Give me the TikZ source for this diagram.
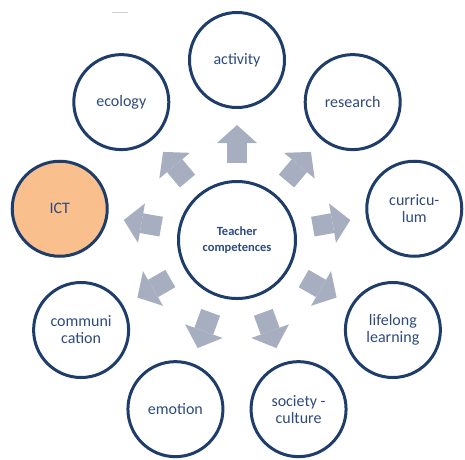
\documentclass[tikz,border=0pt]{standalone}
\usepackage{fontspec}
\setmainfont{Carlito}
\usetikzlibrary{arrows.meta}

\definecolor{ringblue}{HTML}{1F3D6B}
\definecolor{textblue}{HTML}{2D4A7E}
\definecolor{spokegray}{HTML}{A7AEBF}
\definecolor{ictorange}{HTML}{F9C08E}

\tikzset{
    topic/.style={circle, draw=ringblue, line width=3pt, minimum size=95pt, inner sep=0pt,
        align=center, text=textblue, font=\fontsize{16}{17}\selectfont},
    core/.style={topic, minimum size=117pt, font=\bfseries\fontsize{12.5}{16.5}\selectfont},
    spoke/.style={draw=spokegray, line width=20pt,
        -{Triangle[length=18pt,width=40pt,line width=0pt]}, shorten <=17pt, shorten >=16pt}
}

\begin{document}
\begin{tikzpicture}[x=1pt,y=1pt]
        \useasboundingbox (-237,-219) rectangle (228,240);
        \draw[gray!35, line width=1pt] (-125,228) -- (-109,228);
        \node[core] (tc) at (0,0) {Teacher\\competences};
        \node[topic] (activity) at (90:180) {activity};
        \node[topic] (research) at (50:180) {research};
        \node[topic] (curriculum) at (10:180) {curricu-\\lum};
        \node[topic] (lifelong) at (-30:180) {lifelong\\learning};
        \node[topic] (society) at (-70:180) {society -\\culture};
        \node[topic] (emotion) at (-110:180) {emotion};
        \node[topic] (communication) at (-150:180) {communi\\cation};
        \node[topic, fill=ictorange] (ict) at (170:180) {ICT};
        \node[topic] (ecology) at (130:180) {ecology};
        \draw[spoke] (tc) -- (activity);
        \draw[spoke] (tc) -- (research);
        \draw[spoke] (tc) -- (curriculum);
        \draw[spoke] (tc) -- (lifelong);
        \draw[spoke] (tc) -- (society);
        \draw[spoke] (tc) -- (emotion);
        \draw[spoke] (tc) -- (communication);
        \draw[spoke] (tc) -- (ict);
        \draw[spoke] (tc) -- (ecology);
    \end{tikzpicture}
\end{document}
